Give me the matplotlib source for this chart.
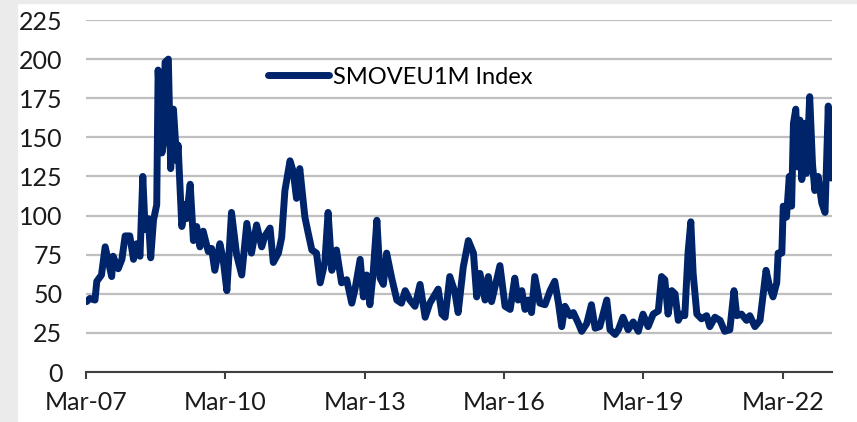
import matplotlib
matplotlib.use("Agg")
import matplotlib.pyplot as plt
import numpy as np

# SMOVEU1M Index (decimal years, index level)
years = [
    2007.18, 2007.25, 2007.36, 2007.40, 2007.50, 2007.58, 2007.72, 2007.75, 2007.86, 2007.94,
    2008.01, 2008.11, 2008.19, 2008.26, 2008.33, 2008.39, 2008.44, 2008.51, 2008.56, 2008.62,
    2008.69, 2008.72, 2008.80, 2008.83, 2008.87, 2008.94, 2008.99, 2009.05, 2009.12, 2009.15,
    2009.23, 2009.30, 2009.33, 2009.41, 2009.48, 2009.55, 2009.62, 2009.69, 2009.80, 2009.87,
    2009.94, 2010.05, 2010.12, 2010.20, 2010.30, 2010.41, 2010.52, 2010.63, 2010.73, 2010.84,
    2010.95, 2011.02, 2011.13, 2011.20, 2011.31, 2011.38, 2011.45, 2011.56, 2011.63, 2011.70,
    2011.77, 2011.88, 2011.95, 2012.03, 2012.13, 2012.21, 2012.31, 2012.38, 2012.46, 2012.56,
    2012.67, 2012.78, 2012.89, 2012.96, 2013.07, 2013.14, 2013.21, 2013.28, 2013.35, 2013.43,
    2013.50, 2013.57, 2013.64, 2013.75, 2013.86, 2013.96, 2014.04, 2014.14, 2014.25, 2014.36,
    2014.47, 2014.57, 2014.75, 2014.83, 2014.90, 2015.00, 2015.11, 2015.18, 2015.29, 2015.40,
    2015.51, 2015.58, 2015.65, 2015.76, 2015.83, 2015.90, 2015.97, 2016.08, 2016.19, 2016.30,
    2016.40, 2016.47, 2016.55, 2016.62, 2016.69, 2016.76, 2016.83, 2016.94, 2017.05, 2017.16,
    2017.26, 2017.34, 2017.41, 2017.48, 2017.59, 2017.66, 2017.77, 2017.84, 2017.95, 2018.05,
    2018.13, 2018.23, 2018.38, 2018.45, 2018.56, 2018.63, 2018.73, 2018.84, 2018.95, 2019.06,
    2019.16, 2019.27, 2019.38, 2019.49, 2019.56, 2019.63, 2019.70, 2019.78, 2019.85, 2019.92,
    2019.99, 2020.06, 2020.13, 2020.19, 2020.24, 2020.32, 2020.42, 2020.53, 2020.60, 2020.71,
    2020.82, 2020.92, 2021.03, 2021.12, 2021.18, 2021.28, 2021.39, 2021.46, 2021.57, 2021.68,
    2021.75, 2021.81, 2021.89, 2021.96, 2022.04, 2022.07, 2022.15, 2022.18, 2022.25, 2022.31,
    2022.36, 2022.40, 2022.45, 2022.50, 2022.54, 2022.58, 2022.63, 2022.68, 2022.75, 2022.81,
    2022.86, 2022.93, 2023.01, 2023.08, 2023.15, 2023.18, 2023.21,
]
values = [
    45, 47, 46, 58, 62, 80, 61, 74, 66, 72,
    87, 87, 72, 82, 74, 125, 91, 98, 73, 97,
    107, 193, 140, 145, 198, 200, 130, 168, 135, 145,
    93, 107, 98, 120, 84, 93, 80, 90, 77, 79,
    65, 82, 72, 52, 102, 75, 62, 95, 76, 94,
    80, 87, 92, 70, 76, 86, 116, 135, 128, 111,
    130, 99, 89, 78, 76, 57, 70, 102, 65, 78,
    57, 59, 44, 53, 72, 48, 62, 43, 63, 97,
    60, 56, 76, 60, 46, 44, 52, 46, 42, 56,
    35, 44, 53, 37, 35, 61, 51, 38, 67, 84,
    76, 48, 63, 46, 61, 45, 54, 68, 42, 40,
    60, 46, 52, 40, 46, 38, 61, 44, 43, 52,
    58, 44, 29, 42, 36, 38, 31, 26, 31, 43,
    28, 29, 46, 27, 24, 27, 35, 27, 32, 26,
    37, 29, 37, 39, 61, 59, 37, 52, 50, 33,
    37, 36, 76, 96, 63, 37, 34, 36, 29, 35,
    33, 26, 27, 52, 36, 37, 33, 36, 29, 33,
    50, 65, 54, 48, 57, 76, 76, 106, 99, 125,
    106, 159, 168, 131, 161, 123, 159, 127, 176, 133,
    116, 125, 108, 102, 170, 128, 124,
]

tick_years = [2007.167, 2010.167, 2013.167, 2016.167, 2019.167, 2022.167]
tick_labels = ["Mar-07", "Mar-10", "Mar-13", "Mar-16", "Mar-19", "Mar-22"]
y_ticks = [0, 25, 50, 75, 100, 125, 150, 175, 200, 225]

navy = "#002469"
plt.rcParams["font.family"] = ["Lato", "DejaVu Sans"]

fig = plt.figure(figsize=(8.57, 4.22), dpi=100)
# light grey frame strips on the left and top
fig.patches.append(plt.Rectangle((0, 0), 17 / 857, 1, transform=fig.transFigure,
                                 color="#ebebeb", zorder=0))
fig.patches.append(plt.Rectangle((0, 1 - 3 / 422), 1, 3 / 422, transform=fig.transFigure,
                                 color="#ebebeb", zorder=0))

ax = fig.add_axes([86 / 857, 1 - 372 / 422, 746 / 857, 352 / 422])
ax.plot(years, values, color=navy, lw=5, solid_joinstyle="round",
        solid_capstyle="round", label="SMOVEU1M Index", zorder=3)

ax.set_xlim(2007.167, 2023.23)
ax.set_ylim(0, 225)
ax.set_yticks(y_ticks)
ax.set_xticks(tick_years)
ax.set_xticklabels(tick_labels)
ax.yaxis.grid(True, color="#bfbfbf", lw=1.6)
ax.set_axisbelow(True)

for s in ["top", "right", "left"]:
    ax.spines[s].set_visible(False)
ax.spines["bottom"].set_color("#404040")
ax.spines["bottom"].set_linewidth(1.5)
ax.spines["bottom"].set_zorder(2)

ax.tick_params(axis="y", length=0, pad=17, labelsize=18, labelcolor="#1a1a1a")
ax.tick_params(axis="x", direction="out", length=5, width=1.5, color="#404040",
               pad=9, labelsize=18, labelcolor="#1a1a1a")

ax.legend(loc="center left", bbox_to_anchor=(0.244, 0.838), frameon=False,
          fontsize=17, handlelength=2.6, handletextpad=0.15, borderpad=0,
          borderaxespad=0)

fig.savefig("out.png", dpi=100, facecolor="white")
